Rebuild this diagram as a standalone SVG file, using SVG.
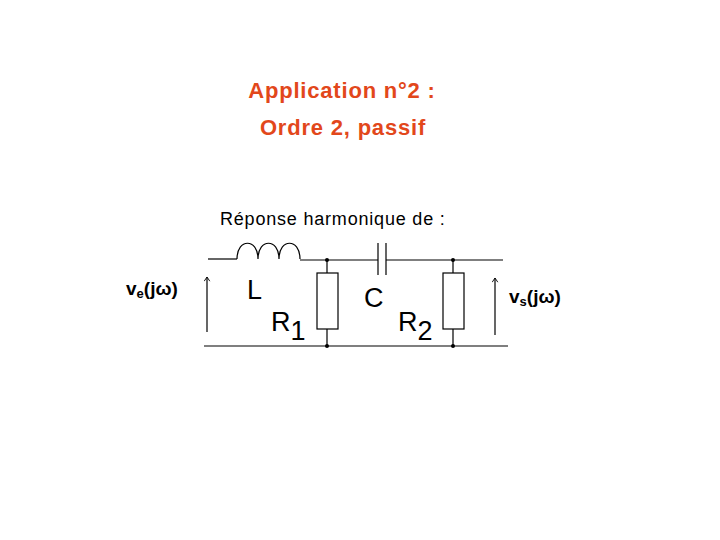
<svg xmlns="http://www.w3.org/2000/svg" width="720" height="540" viewBox="0 0 720 540">
<style>
.t{font-family:"Liberation Sans",Arial,sans-serif;font-weight:bold;font-size:22px;letter-spacing:0.8px;fill:#E2471B;text-anchor:middle}
.w{stroke:#000;fill:none;stroke-width:1.2}
.lbl{font-family:"Liberation Sans",Arial,sans-serif;font-size:27px;fill:#000}
.v{font-family:"Liberation Sans",Arial,sans-serif;font-weight:bold;font-size:19px;fill:#000}
</style>
<defs><marker id="a" viewBox="0 0 10 10" refX="9" refY="5" markerWidth="7" markerHeight="7" markerUnits="userSpaceOnUse" orient="auto"><path d="M3,1 L9,5 L3,9" fill="none" stroke="#000" stroke-width="1.3"/></marker></defs>
<rect width="720" height="540" fill="#fff"/>
<text class="t" x="342" y="98">Application n°2 :</text>
<text class="t" x="343" y="135">Ordre 2, passif</text>
<text x="220" y="225" font-family="Liberation Sans,Arial,sans-serif" font-size="18" letter-spacing="0.8">Réponse harmonique de :</text>
<g id="connectors">
<path class="w" stroke-width="2" d="M208,259 H237"/>
<path class="w" stroke-width="2" d="M237,259 C237,238 258,238 258,259 C258,238 279,238 279,259 C279,238 300,238 300,259"/>
<path class="w" d="M300,260 H378 M386,260 H503"/>
<path class="w" stroke-width="2" d="M378,243 V275 M386,243 V275"/>
<path class="w" d="M327,260 V273 M327,329 V346 M453,260 V273 M453,329 V346"/>
<path class="w" stroke-width="2.4" d="M204,346 H508"/>
<circle cx="327" cy="260" r="2"/><circle cx="327" cy="346" r="2"/>
<circle cx="453" cy="260" r="2"/><circle cx="453" cy="346" r="2"/>
<path class="w" d="M207,332 V277" marker-end="url(#a)"/>
<path class="w" d="M495,335 V278" marker-end="url(#a)"/>
</g>
<g id="R1"><rect class="w" stroke-width="2" x="317" y="273" width="21" height="56"/></g>
<g id="R2"><rect class="w" stroke-width="2" x="443" y="273" width="21" height="56"/></g>
<text class="lbl" x="247" y="299">L</text>
<text class="lbl" x="364" y="307">C</text>
<text class="lbl" x="271" y="331">R<tspan dy="9">1</tspan></text>
<text class="lbl" x="398" y="331">R<tspan dy="9">2</tspan></text>
<text class="v" x="126" y="295">v<tspan font-size="13" dy="3">e</tspan><tspan dy="-3">(jω)</tspan></text>
<text class="v" x="509" y="303">v<tspan font-size="13" dy="3">s</tspan><tspan dy="-3">(jω)</tspan></text>
</svg>
